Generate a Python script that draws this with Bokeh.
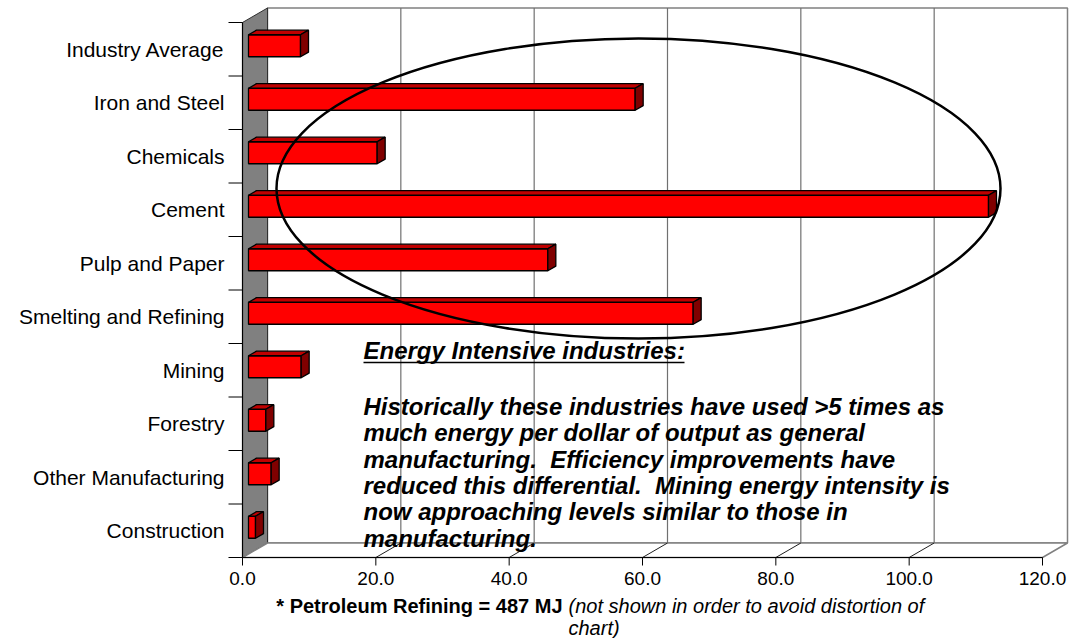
from bokeh.plotting import figure
from bokeh.models import Range1d
from bokeh.core.properties import value
from bokeh.embed import file_html
from bokeh.resources import INLINE

# ---- data -------------------------------------------------------------
categories = [
    "Industry Average",
    "Iron and Steel",
    "Chemicals",
    "Cement",
    "Pulp and Paper",
    "Smelting and Refining",
    "Mining",
    "Forestry",
    "Other Manufacturing",
    "Construction",
]
# energy use, MJ per dollar of output
energy_mj = [7.8, 58.0, 19.3, 111.0, 44.9, 66.7, 7.9, 2.6, 3.4, 1.05]

x_ticks = [0, 20, 40, 60, 80, 100, 120]
x_tick_labels = ["0.0", "20.0", "40.0", "60.0", "80.0", "100.0", "120.0"]

NB = "\u00a0"  # keeps the double spaces after full stops
note_title = "Energy Intensive industries:"
note_lines = [
    "Historically these industries have used >5 times as",
    "much energy per dollar of output as general",
    f"manufacturing.{NB} Efficiency improvements have",
    f"reduced this differential.{NB} Mining energy intensity is",
    "now approaching levels similar to those in",
    "manufacturing.",
]
foot_bold = "* Petroleum Refining = 487 MJ"
foot_italic = ["(not shown in order to avoid distortion of", "chart)"]

# ---- layout -------------------------------------------------------------
W, H = 1074, 638
X_MAX = 120
N = len(categories)
LEFT_PX = 242          # canvas x of value 0 on the front plane
BOTTOM_PX = 557        # canvas y (from top) of the front floor edge
PX = 800 / X_MAX       # pixels per MJ
PY = 53.5              # pixels per category slot

def cx(px):            # canvas x -> data x
    return (px - LEFT_PX) / PX

def cy(py):            # canvas y (from top) -> data y
    return (BOTTOM_PX - py) / PY

DX = 25 / PX           # depth of the 3-D box along x
DY = 14.5 / PY         # depth of the 3-D box along y
FRONT, BACK = 0.24, 0.56   # bar position inside the depth
HB = 11 / PY           # half bar thickness

FONT = value("Liberation Sans")

p = figure(
    width=W, height=H,
    x_range=Range1d(cx(0), cx(W)),
    y_range=Range1d(cy(H), cy(0)),
    output_backend="svg", toolbar_location=None,
    x_axis_location=None, y_axis_location=None,
    min_border=0,
)
p.grid.visible = False
p.outline_line_color = None
p.background_fill_color = "white"
p.border_fill_color = "white"

# ---- 3-D box: back wall, side wall, floor ---------------------------------
p.quad(left=[DX], right=[X_MAX + DX], bottom=[DY], top=[N + DY],
       fill_color="white", line_color="#808080", line_width=1.5)
grid_x = [t + DX for t in x_ticks[1:-1]]
p.segment(x0=grid_x, y0=[DY] * len(grid_x), x1=grid_x, y1=[N + DY] * len(grid_x),
          line_color="#707070", line_width=1.2)

p.patch(x=[0, DX, DX, 0], y=[0, DY, N + DY, N],
        fill_color="#808080", line_color="#303030", line_width=1)

p.patch(x=[0, X_MAX, X_MAX + DX, DX], y=[0, 0, DY, DY],
        fill_color="white", line_color="#808080", line_width=1.5)
floor_x = x_ticks[1:-1]
p.segment(x0=floor_x, y0=[0] * len(floor_x),
          x1=[t + DX for t in floor_x], y1=[DY] * len(floor_x),
          line_color="#202020", line_width=1)

# axis lines and tick marks
p.segment(x0=[0], y0=[0], x1=[X_MAX], y1=[0], line_color="black", line_width=1.2)
p.segment(x0=[0], y0=[0], x1=[0], y1=[N], line_color="black", line_width=1.2)
p.segment(x0=x_ticks, y0=[0] * len(x_ticks), x1=x_ticks, y1=[-8 / PY] * len(x_ticks),
          line_color="black", line_width=1)
y_bounds = list(range(N + 1))
p.segment(x0=[-14 / PX] * len(y_bounds), y0=y_bounds, x1=[0] * len(y_bounds), y1=y_bounds,
          line_color="black", line_width=1)

# ---- bars -----------------------------------------------------------------
fx, bx = FRONT * DX, BACK * DX
fy, by = FRONT * DY, BACK * DY
yc = [N - 1 - i + 0.5 for i in range(N)]

p.quad(left=[fx] * N, right=[v + fx for v in energy_mj],
       bottom=[c - HB + fy for c in yc], top=[c + HB + fy for c in yc],
       fill_color="#FF0000", line_color="black", line_width=1.3)
p.patches(
    xs=[[fx, v + fx, v + bx, bx] for v in energy_mj],
    ys=[[c + HB + fy, c + HB + fy, c + HB + by, c + HB + by] for c in yc],
    fill_color="#C00000", line_color="black", line_width=1.3)
p.patches(
    xs=[[v + fx, v + bx, v + bx, v + fx] for v in energy_mj],
    ys=[[c - HB + fy, c - HB + by, c + HB + by, c + HB + fy] for c in yc],
    fill_color="#800000", line_color="black", line_width=1.3)

# ---- highlight ellipse around the energy intensive group ------------------
p.ellipse(x=[cx(638)], y=[cy(188)], width=[724 / PX], height=[300 / PY],
          fill_color=None, line_color="black", line_width=2.5)

# ---- axis labels -----------------------------------------------------------
p.text(x=[cx(224)] * N, y=yc, text=categories, text_font=FONT,
       text_font_size="21px", text_align="right", text_baseline="middle",
       text_color="black")
p.text(x=x_ticks, y=[cy(578)] * len(x_ticks), text=x_tick_labels, text_font=FONT,
       text_font_size="19px", text_align="center", text_baseline="middle",
       text_color="black")

# ---- note ----------------------------------------------------------------
p.text(x=[cx(363)], y=[cy(350)], text=[note_title], text_font=FONT,
       text_font_size="24px", text_font_style="bold italic",
       text_align="left", text_baseline="middle", text_color="black")
p.segment(x0=[cx(363)], y0=[cy(362)], x1=[cx(684)], y1=[cy(362)],
          line_color="black", line_width=1.5)
line_y = [cy(406 + 26.3 * i) for i in range(len(note_lines))]
p.text(x=[cx(363)] * len(note_lines), y=line_y, text=note_lines, text_font=FONT,
       text_font_size="24px", text_font_style="bold italic",
       text_align="left", text_baseline="middle", text_color="black")

# ---- footnote --------------------------------------------------------------
p.text(x=[cx(562)], y=[cy(605)], text=[foot_bold], text_font=FONT,
       text_font_size="20px", text_font_style="bold",
       text_align="right", text_baseline="middle", text_color="black")
p.text(x=[cx(568)] * 2, y=[cy(605), cy(627)], text=foot_italic, text_font=FONT,
       text_font_size="20px", text_font_style="italic",
       text_align="left", text_baseline="middle", text_color="black")

open("out.html", "w").write(file_html(p, INLINE))
